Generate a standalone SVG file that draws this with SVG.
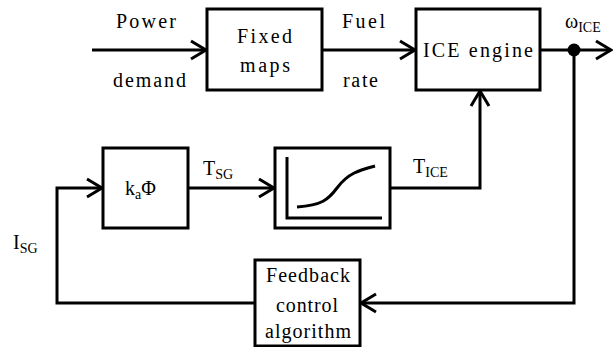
<svg xmlns="http://www.w3.org/2000/svg" width="613" height="347" viewBox="0 0 613 347">
<style>
.box{fill:#fff;stroke:#000;stroke-width:3}
.ln{fill:none;stroke:#000;stroke-width:3}
</style>
<defs>
<marker id="arr" markerUnits="userSpaceOnUse" markerWidth="24" markerHeight="24" viewBox="-20 -12 24 24" refX="0" refY="0" orient="auto">
<path d="M-15,-9 L0,0 L-15,9" fill="none" stroke="#000" stroke-width="3"/>
</marker>
</defs>
<g id="connectors">
<line class="ln" x1="92" y1="50" x2="206" y2="50" marker-end="url(#arr)"/>
<line class="ln" x1="322" y1="50" x2="415" y2="50" marker-end="url(#arr)"/>
<line class="ln" x1="540" y1="50" x2="611" y2="50" marker-end="url(#arr)"/>
<circle cx="574" cy="50" r="6.5" fill="#000"/>
<polyline class="ln" points="574,50 574,303 361,303" marker-end="url(#arr)"/>
<polyline class="ln" points="255,303 57,303 57,188 102,188" marker-end="url(#arr)"/>
<line class="ln" x1="188" y1="188" x2="274" y2="188" marker-end="url(#arr)"/>
<polyline class="ln" points="390,188 480,188 480,91" marker-end="url(#arr)"/>
</g>
<g id="labels">
<text font-family="Liberation Serif" font-size="20" x="116" y="28" textLength="60" lengthAdjust="spacing">Power</text>
<text font-family="Liberation Serif" font-size="20" x="113" y="87" textLength="73" lengthAdjust="spacing">demand</text>
<text font-family="Liberation Serif" font-size="20" x="342" y="28" textLength="43" lengthAdjust="spacing">Fuel</text>
<text font-family="Liberation Serif" font-size="20" x="343" y="87" textLength="35" lengthAdjust="spacing">rate</text>
<text font-family="Liberation Serif" font-size="20" x="565" y="28">&#969;<tspan font-size="14" dy="4">ICE</tspan></text>
<text font-family="Liberation Serif" font-size="20" x="203" y="175">T<tspan font-size="14" dy="4">SG</tspan></text>
<text font-family="Liberation Serif" font-size="20" x="413" y="173">T<tspan font-size="14" dy="4">ICE</tspan></text>
<text font-family="Liberation Serif" font-size="20" x="13" y="249">I<tspan font-size="14" dy="4">SG</tspan></text>
</g>
<g id="fixed-maps">
<rect class="box" x="207" y="9" width="115" height="81"/>
<text font-family="Liberation Serif" font-size="20" x="237" y="43" textLength="55" lengthAdjust="spacing">Fixed</text>
<text font-family="Liberation Serif" font-size="20" x="240" y="72" textLength="50" lengthAdjust="spacing">maps</text>
</g>
<g id="ice-engine">
<rect class="box" x="416" y="9" width="124" height="81"/>
<text font-family="Liberation Serif" font-size="20" x="423" y="57" textLength="110" lengthAdjust="spacing">ICE engine</text>
</g>
<g id="ka-phi">
<rect class="box" x="103" y="148" width="85" height="80"/>
<text font-family="Liberation Serif" font-size="20" x="125" y="195">k<tspan font-size="14" dy="4">a</tspan><tspan dy="-4">&#934;</tspan></text>
</g>
<g id="curve-block">
<rect class="box" x="275" y="148" width="115" height="80"/>
<polyline class="ln" points="287,157 287,218 382,218"/>
<path class="ln" d="M297,207 C322,205 328,200 337,188 C348,173 360,170 375,166"/>
</g>
<g id="feedback">
<rect class="box" x="255" y="260" width="105" height="86"/>
<text font-family="Liberation Serif" font-size="20" x="266" y="282" textLength="84" lengthAdjust="spacing">Feedback</text>
<text font-family="Liberation Serif" font-size="20" x="276" y="312" textLength="62" lengthAdjust="spacing">control</text>
<text font-family="Liberation Serif" font-size="20" x="265" y="338" textLength="86" lengthAdjust="spacing">algorithm</text>
</g>
</svg>
